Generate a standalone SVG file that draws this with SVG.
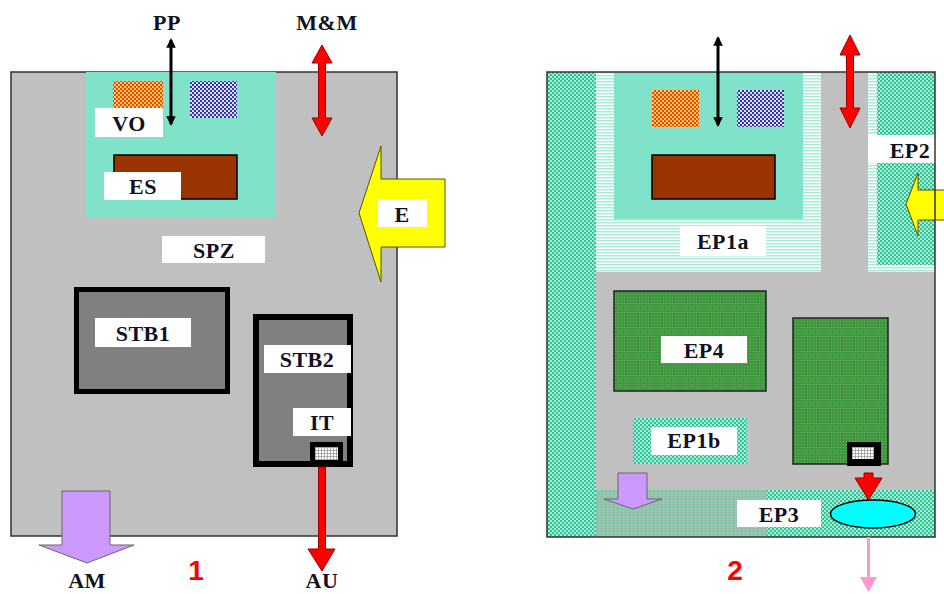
<svg xmlns="http://www.w3.org/2000/svg" width="944" height="594" viewBox="0 0 944 594">
<defs>
<style>
.lbl{font-family:"Liberation Serif","Times New Roman",serif;font-weight:bold;font-size:22px;fill:#111122;text-anchor:middle;letter-spacing:0.5px}
.num{font-family:"Liberation Sans",Arial,sans-serif;font-weight:bold;font-size:28px;fill:#ff0000;text-anchor:middle}
.wb{fill:#ffffff}
.panel{fill:#c0c0c0;stroke:#333333;stroke-width:1.5}
.teal{fill:#80e3c9}
.brown{fill:#993300;stroke:#000;stroke-width:1.5}
.stb{fill:#808080;stroke:#000}
.redarr{fill:#ff0000;stroke:#990000;stroke-width:1}
.yel{fill:#ffff00;stroke:#555500;stroke-width:1}
.pur{fill:#cc99ff;stroke:#666;stroke-width:1}
.blk{stroke:#000;stroke-width:3;fill:none}
</style>
<pattern id="chk" width="4" height="4" patternUnits="userSpaceOnUse">
<rect width="4" height="4" fill="#a6ecd6"/><rect width="2" height="2" fill="#2fc495"/><rect x="2" y="2" width="2" height="2" fill="#2fc495"/>
</pattern>
<pattern id="str" width="3" height="3" patternUnits="userSpaceOnUse">
<rect width="3" height="3" fill="#ffffff"/><rect width="3" height="1.5" fill="#a8ecd8"/>
</pattern>
<pattern id="org" width="4" height="4" patternUnits="userSpaceOnUse">
<rect width="4" height="4" fill="#ffcc66"/><rect width="2" height="2" fill="#ff4400"/><rect x="2" y="2" width="2" height="2" fill="#ff4400"/>
</pattern>
<pattern id="blu" width="4" height="4" patternUnits="userSpaceOnUse">
<rect width="4" height="4" fill="#dedeff"/><rect width="2" height="2" fill="#3333aa"/><rect x="2" y="2" width="2" height="2" fill="#3333aa"/>
</pattern>
<pattern id="grn" width="3" height="3" patternUnits="userSpaceOnUse">
<rect width="3" height="3" fill="#3d9b3d"/><rect width="1" height="1" fill="#7f9a7f"/>
</pattern>
<pattern id="mut" width="4" height="4" patternUnits="userSpaceOnUse">
<rect width="4" height="4" fill="#84cfae"/><rect width="4" height="1" fill="#9fb8ac"/><rect x="1" y="2" width="1" height="1" fill="#5cc49c"/>
</pattern>
<pattern id="grid" width="3" height="3" patternUnits="userSpaceOnUse">
<rect width="3" height="3" fill="#ffffff"/><rect width="3" height="0.8" fill="#999"/><rect width="0.8" height="3" fill="#999"/>
</pattern>
<marker id="ah" viewBox="0 0 10 10" refX="8" refY="5" markerWidth="3.2" markerHeight="3.2" orient="auto-start-reverse">
<path d="M0,0 L10,5 L0,10 Z" fill="#000"/>
</marker>
</defs>

<!-- Panel 1 -->
<g id="panel1">
<rect class="panel" x="11" y="72" width="386" height="464"/>
</g>
<g id="vo-zone">
<rect class="teal" x="86" y="72" width="190" height="146"/>
<rect x="113" y="81" width="50" height="28" fill="url(#org)"/>
<rect x="190" y="81" width="47" height="37" fill="url(#blu)"/>
<rect class="wb" x="95" y="108" width="68" height="29"/>
<text class="lbl" x="129" y="131">VO</text>
</g>
<g id="es">
<rect class="brown" x="114" y="155" width="123" height="44"/>
<rect class="wb" x="104" y="172" width="77" height="28"/>
<text class="lbl" x="143" y="194">ES</text>
</g>
<g id="spz">
<rect class="wb" x="162" y="236" width="103" height="27"/>
<text class="lbl" x="214" y="258">SPZ</text>
</g>
<g id="stb1">
<rect class="stb" x="76.5" y="289.5" width="151" height="102" stroke-width="5"/>
<rect class="wb" x="95" y="318" width="96" height="29"/>
<text class="lbl" x="143" y="341">STB1</text>
</g>
<g id="stb2">
<rect class="stb" x="256" y="317" width="94" height="147" stroke-width="6"/>
<rect class="wb" x="264" y="345" width="87" height="28"/>
<text class="lbl" x="307" y="367">STB2</text>
</g>
<g id="it">
<rect class="wb" x="293" y="408" width="58" height="28"/>
<text class="lbl" x="322" y="430">IT</text>
<rect x="310" y="442" width="33" height="21" fill="#000"/>
<rect x="315" y="447" width="23" height="13" fill="url(#grid)"/>
</g>
<g id="label-pp"><text class="lbl" x="167" y="30">PP</text></g>
<g id="label-mm"><text class="lbl" x="327" y="30">M&amp;M</text></g>
<g id="e">
<polygon class="yel" points="359,213 381,146 381,179 445,179 445,247 381,247 381,282"/>
<rect class="wb" x="378" y="199" width="49" height="28"/>
<text class="lbl" x="402" y="222">E</text>
</g>
<g id="am">
<polygon class="pur" points="62,491 110,491 110,545 134,545 87,563 39,545 62,545"/>
<text class="lbl" x="87" y="588">AM</text>
</g>
<g id="label-au"><text class="lbl" x="322" y="588">AU</text></g>
<g id="num1"><text class="num" x="196" y="580">1</text></g>

<!-- Panel 2 -->
<g id="panel2">
<rect x="547" y="72" width="388" height="465" fill="#c0c0c0"/>
<rect x="547" y="72" width="49" height="465" fill="url(#chk)"/>
</g>
<g id="ep1a">
<rect x="596" y="72" width="225" height="200" fill="url(#str)"/>
<rect class="teal" x="614" y="72" width="189" height="147"/>
<rect x="652" y="90" width="47" height="37" fill="url(#org)"/>
<rect x="737" y="90" width="47" height="37" fill="url(#blu)"/>
<rect class="brown" x="652" y="155" width="123" height="44"/>
<rect class="wb" x="680" y="226" width="86" height="30"/>
<text class="lbl" x="723" y="249">EP1a</text>
</g>
<g id="ep2">
<rect x="868" y="72" width="67" height="200" fill="url(#str)"/>
<rect x="877" y="72" width="58" height="193" fill="url(#chk)"/>
<rect class="wb" x="868" y="135" width="67" height="28"/>
<text class="lbl" x="910" y="158">EP2</text>
<polygon class="yel" points="906,204 918,173 918,190 950,190 950,220 918,220 918,236"/>
</g>
<g id="ep4">
<rect x="614" y="291" width="152" height="100" fill="url(#grn)" stroke="#222" stroke-width="1.5"/>
<rect class="wb" x="661" y="336" width="86" height="27"/>
<text class="lbl" x="704" y="358">EP4</text>
</g>
<g id="ep-stb2">
<rect x="793" y="318" width="95" height="146" fill="url(#grn)" stroke="#222" stroke-width="1.5"/>
<rect x="847" y="442" width="34" height="24" fill="#000"/>
<rect x="852" y="447" width="22" height="12" fill="url(#grid)"/>
</g>
<g id="ep1b">
<rect x="633" y="418" width="114" height="46" fill="url(#chk)"/>
<rect class="wb" x="651" y="427" width="86" height="28"/>
<text class="lbl" x="694" y="448">EP1b</text>
</g>
<g id="ep3">
<rect x="596" y="490" width="171" height="47" fill="url(#mut)"/>
<rect x="767" y="490" width="168" height="47" fill="url(#chk)"/>
<rect class="wb" x="737" y="500" width="84" height="27"/>
<text class="lbl" x="779" y="522">EP3</text>
<ellipse cx="873" cy="514" rx="42.5" ry="14" fill="#00ffff" stroke="#000" stroke-width="1.5"/>
</g>
<g id="am2">
<polygon class="pur" points="618,473 647,473 647,499 662,499 633,509 604,499 618,499"/>
</g>
<g id="panel2-border">
<rect x="547" y="72" width="388" height="465" fill="none" stroke="#333" stroke-width="1.5"/>
</g>
<g id="num2"><text class="num" x="735" y="580">2</text></g>

<!-- Connectors -->
<g id="connectors">
<line class="blk" x1="171" y1="40" x2="171" y2="124" marker-start="url(#ah)" marker-end="url(#ah)"/>
<polygon class="redarr" points="322,45 332,63 325.5,63 325.5,118 332,118 322,136 312,118 318.5,118 318.5,63 312,63"/>
<polygon class="redarr" points="318.5,467 325.5,467 325.5,549 335,549 322,571 308,549 318.5,549" stroke="none"/>
<line class="blk" x1="718" y1="38" x2="718" y2="125" marker-start="url(#ah)" marker-end="url(#ah)"/>
<polygon class="redarr" points="850,35 860,55 853.5,55 853.5,108 860,108 850,128 840,108 846.5,108 846.5,55 840,55"/>
<polygon class="redarr" points="864,473 873,473 873,478 882,478 868.5,500 855,478 864,478" stroke="none"/>
<polygon points="867,537 870,537 870,577 877,577 868.5,592 860,577 867,577" fill="#ff99cc"/>
</g>
</svg>
